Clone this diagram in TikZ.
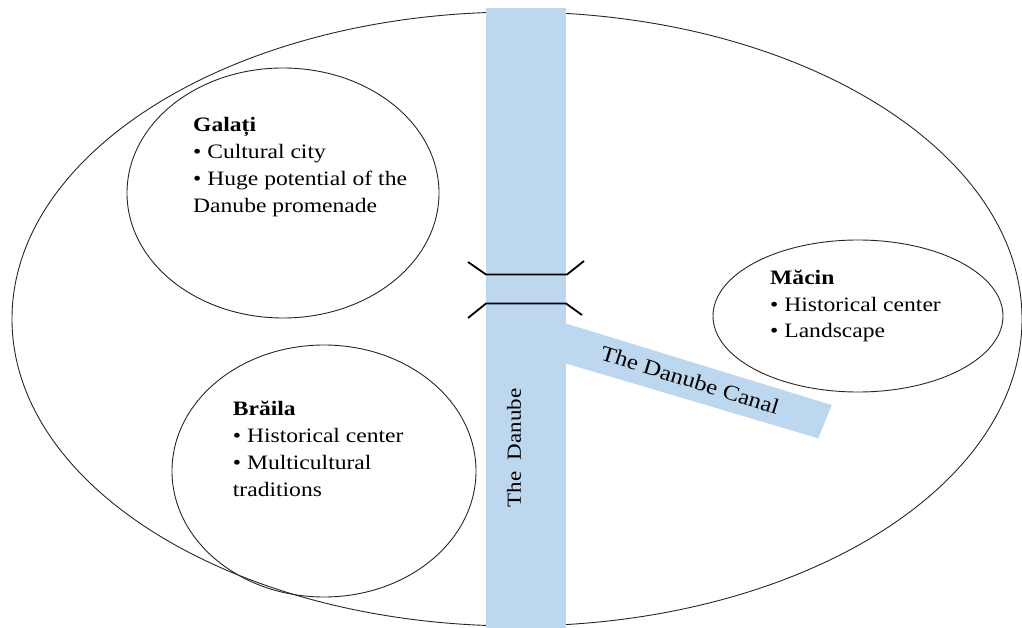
\documentclass[tikz,border=0pt]{standalone}
\usepackage{fontspec}
\setmainfont[FakeStretch=1.15]{Liberation Serif}
\usepackage{tikz, xcolor}
\definecolor{rivercol}{RGB}{189,215,238}

\begin{document}
\begin{tikzpicture}[x=1pt, y=-1pt]
\tikzstyle{regionline}=[draw=black!85, line width=0.9pt]
\tikzstyle{waterstyle}=[fill=rivercol, draw=none]
\tikzstyle{bridgestyle}=[draw=black, line width=1.8pt, line join=miter]
\tikzstyle{citytext}=[anchor=north west, align=left, inner sep=0pt, font=\fontsize{20.5}{27}\selectfont]
\tikzstyle{watertext}=[inner sep=0pt, font=\fontsize{20}{24}\selectfont]

\useasboundingbox (0,0) rectangle (1022,628);

% the region and the three towns
\draw[regionline] (517,319) ellipse [x radius=505, y radius=307];
\fill[waterstyle] (486,8) rectangle (566,628);
\fill[waterstyle] (560,321.7) -- (831.7,405) -- (818.3,438.3) -- (560,361.7) -- cycle;
\draw[regionline] (283,193) ellipse [x radius=156, y radius=125];
\draw[regionline] (324,471) ellipse [x radius=152, y radius=126];
\draw[regionline] (858,316) ellipse [x radius=145, y radius=76];

% the bridge
\draw[bridgestyle] (468,262) -- (486,274.5) -- (567,274.5) -- (584,261);
\draw[bridgestyle] (468,318) -- (486,303.5) -- (566,303.5) -- (582,315);

\node[citytext] (galati) at (193,117) {\textbf{Galați}\\• Cultural city\\• Huge potential of the\\Danube promenade};
\node[citytext] (braila) at (232.7,401) {\textbf{Brăila}\\• Historical center\\• Multicultural\\traditions};
\node[citytext, font=\fontsize{20.5}{26.5}\selectfont] (macin) at (770,270) {\textbf{Măcin}\\• Historical center\\• Landscape};

\node[watertext, rotate=90] (danube) at (514,448) {The\ \ Danube};
\node[watertext, font=\fontsize{21.5}{24}\selectfont, rotate=-17.3] (canal) at (690,380) {The Danube Canal};
\end{tikzpicture}
\end{document}
